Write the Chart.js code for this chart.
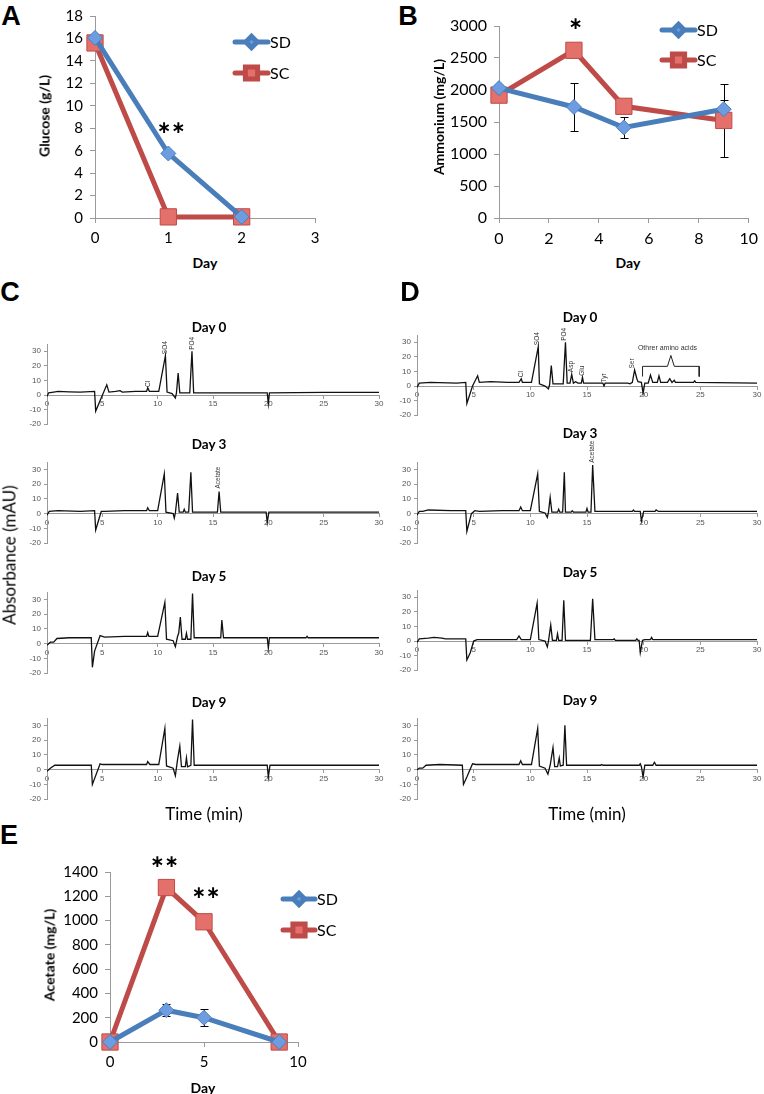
<!DOCTYPE html>
<html>
<head>
<meta charset="utf-8">
<script src="https://cdn.jsdelivr.net/npm/chart.js@4.4.1/dist/chart.umd.min.js"></script>
<style>
    body { margin: 0; background: #fff; }
    #fig { position: relative; width: 764px; height: 1094px; background: #fff; font-family: Lato, sans-serif; overflow: hidden; }
    #fig canvas { position: absolute; }
    .t { position: absolute; white-space: nowrap; transform: translate(-50%, -50%); color: #000; }
</style>
</head>
<body>
<div id="fig"></div>
<script>
// Panel A: glucose
const glucoseDays = [0, 1, 2];
const glucoseSD = [16.05, 5.75, 0.1];
const glucoseSC = [15.6, 0.1, 0.1];

// Panel B: ammonium
const ammoniumDays = [0, 3, 5, 9];
const ammoniumSD = [2030, 1735, 1415, 1700];
const ammoniumSDErr = [0, 370, 160, 140];
const ammoniumSC = [1920, 2620, 1745, 1525];
const ammoniumSCErr = [0, 110, 0, 575];

// Panel E: acetate
const acetateDays = [0, 3, 5, 9];
const acetateSD = [0, 262, 200, 0];
const acetateSDErr = [0, 50, 70, 0];
const acetateSC = [0, 1272, 990, 0];
const acetateSCErr = [0, 0, 0, 0];

// Panel C: chromatograms, [time (min), absorbance (mAU)]
const cDay0 = [[0,-1],[0.15,1.5],[0.6,2],[1,2.5],[2,2.2],[3,2],[4.3,2.5],[4.4,-11],[5.4,7],[5.6,2],[6.2,2.5],[6.6,3],[6.8,2],[8,2.5],[9.0,2.5],[9.1,5],[9.25,2.5],[10.1,2.5],[10.7,27],[10.85,2],[11.3,1],[11.6,-2],[11.7,1.5],[11.85,15],[12.0,1.5],[12.9,1.5],[13.1,30],[13.25,1.5],[19.9,1.5],[20.0,-6],[20.1,1.5],[25,1.8],[30,1.8]];
const cDay3 = [[0,-1],[0.2,1.5],[1,2],[3,1.5],[4.3,2],[4.4,-11],[4.9,1.5],[5.2,1.5],[7,2],[9.0,2],[9.1,4],[9.25,2],[10.0,2],[10.6,27],[10.75,1],[11.4,0],[11.5,-3],[11.6,0.5],[11.8,14],[11.95,1],[12.3,1],[12.4,3],[12.5,1],[12.8,1],[13.0,28],[13.15,1],[15.4,1],[15.55,15],[15.7,1],[19.8,1],[19.9,-6],[20.05,1],[30,1]];
const cDay5 = [[0,-1],[0.3,1],[0.6,1],[0.9,3.5],[2,4],[4.0,4],[4.1,-16],[4.3,-5],[4.8,5.5],[5.2,4.5],[7,5],[9.0,5],[9.1,7.5],[9.2,5],[10.0,5],[10.65,28],[10.8,3],[11.4,2],[11.6,-2],[11.8,5],[11.9,7],[12.05,18],[12.2,3],[12.5,3],[12.6,7],[12.7,3],[13.0,3],[13.15,34],[13.3,4],[15.7,4],[15.8,16],[15.95,4],[19.9,4],[20.0,-3],[20.1,4],[23.4,4],[23.5,5],[23.6,4],[30,4]];
const cDay9 = [[0,-1],[0.3,1],[0.7,3],[2,3],[4.0,3],[4.1,-10],[4.8,4],[5.0,3.5],[9.0,3.5],[9.1,5.5],[9.3,3.5],[10.1,3.5],[10.65,28],[10.8,2.5],[11.4,1],[11.6,-4],[11.8,7],[12.0,16],[12.15,2],[12.5,2],[12.6,8],[12.7,2],[13.0,3],[13.15,34],[13.3,3],[19.9,3],[20.0,-5],[20.15,3],[30,3]];

// Panel D: chromatograms
const dDay0 = [[0,-1],[0.2,2],[1.2,2.5],[3.5,2],[4.3,2.5],[4.4,-12],[4.9,0],[5.35,7],[5.5,2.5],[6.5,3],[8,2.5],[9.0,2.5],[9.2,5],[9.3,2.5],[10.1,2.5],[10.7,27],[10.8,1.5],[11.3,0],[11.6,-2],[11.7,1],[11.85,14],[12.0,1.5],[12.9,1.5],[13.1,30],[13.25,2],[13.5,2],[13.65,8],[13.8,2],[14.0,3],[14.2,2],[14.5,2],[14.6,6],[14.7,2],[16.4,2],[16.5,0],[16.6,2],[18.6,2],[18.8,1.5],[19.0,2.5],[19.2,11],[19.4,5],[19.5,3],[19.8,2.5],[19.95,-5],[20.1,2],[20.4,2],[20.6,7.5],[20.8,2.5],[21.2,2.5],[21.35,7],[21.5,2.5],[22.1,2.5],[22.3,5],[22.5,2.5],[22.7,4],[22.8,2.5],[24.4,2.5],[24.5,3.5],[24.6,2.5],[30,2]];
const dDay3 = [[0,-1],[0.2,1.5],[0.5,1.5],[1.0,2.5],[3,2],[4.3,2],[4.4,-12],[4.8,0],[5.1,2],[5.5,1.5],[7.5,2],[9.0,2],[9.15,4.5],[9.3,2],[10.0,2],[10.65,27],[10.8,1.5],[11.3,0.5],[11.5,-2.5],[11.6,1],[11.75,11],[11.9,1],[12.4,1],[12.5,3],[12.6,1],[12.85,1],[13.0,28],[13.1,1],[13.6,1],[13.7,2],[13.8,1],[14.9,1],[15.0,3.5],[15.1,1],[15.35,1],[15.5,33],[15.7,1.5],[19.0,1.5],[19.1,2.5],[19.2,1.5],[19.7,1.5],[19.8,-5],[20.0,1.5],[21.0,1.5],[21.1,2.5],[21.3,1.5],[30,1.5]];
const dDay5 = [[0,-1],[0.2,1.5],[1.0,2],[1.5,2.5],[2.2,2],[2.5,1.5],[4.3,1.5],[4.4,-13],[4.7,-8],[5.0,0],[5.3,1],[8.8,1],[9.0,3.5],[9.2,1],[10.0,1],[10.6,26],[10.75,1],[11.3,0],[11.5,-4],[11.6,0],[11.8,11],[11.95,0.5],[12.3,0.5],[12.4,5],[12.5,0.5],[12.8,0.5],[12.95,28],[13.1,0.5],[15.3,0.5],[15.5,29],[15.7,1],[17.3,1],[17.4,1.5],[17.5,0.5],[19.3,0.5],[19.4,1.5],[19.5,0.5],[19.6,0.5],[19.7,-8],[19.9,0.5],[20.1,1],[20.6,1],[20.7,2.5],[20.8,1],[30,1]];
const dDay9 = [[0,0],[0.2,1],[0.5,1],[0.8,3],[2,3.5],[4.0,3],[4.1,-10],[4.4,-5],[4.9,4],[5.2,3.5],[9.0,3.5],[9.15,6],[9.3,3.5],[10.1,3.5],[10.65,28],[10.8,2.5],[11.3,1],[11.55,-3],[11.75,3],[12.0,15],[12.15,2],[12.4,2],[12.55,8],[12.65,2.5],[12.9,3],[13.05,30],[13.2,3],[16.2,3],[16.3,3.5],[16.4,3],[19.6,3],[19.7,4],[19.8,2],[19.95,-5],[20.1,3],[20.8,3],[20.95,5],[21.1,3],[30,3]];

// peak names: [name, time, absorbance where the label starts]
const cDay0Peaks = [['Cl', 9.15, 5.5], ['SO4', 10.7, 28], ['PO4', 13.1, 31]];
const cDay3Peaks = [['Acetate', 15.5, 17]];
const dDay0Peaks = [['Cl', 9.2, 6], ['SO4', 10.6, 28], ['PO4', 13.0, 31], ['Asp', 13.6, 9.5], ['Glu', 14.6, 7], ['Tyr', 16.5, 2.5], ['Ser', 19.0, 12]];
const dDay3Peaks = [['Acetate', 15.45, 34.5]];

// brace over the other amino acids (panel D, day 0)
const braceTimes = [19.9, 19.9, 22.1, 22.4, 22.7, 24.9, 24.9];
const braceValues = [6.5, 13.5, 13.5, 21, 13.5, 13.5, 6.5];
const braceText = 'Othrer amino acids';

const SD_LINE = '#4a7ebb', SD_FILL = '#6d9de0';
const SC_LINE = '#be4b48', SC_FILL = '#e4706c';
const AXIS = '#9a9a9a';

const fig = document.getElementById('fig');

function addCanvas(box) {
    const c = document.createElement('canvas');
    c.width = box.w; c.height = box.h;
    c.style.left = box.x + 'px'; c.style.top = box.y + 'px';
    c.style.width = box.w + 'px'; c.style.height = box.h + 'px';
    fig.appendChild(c);
    return c;
}

function txt(s, cx, cy, css, rot) {
    const d = document.createElement('div');
    d.className = 't';
    d.textContent = s;
    d.style.left = cx + 'px'; d.style.top = cy + 'px';
    d.style.cssText += css;
    if (rot) d.style.transform = 'translate(-50%, -50%) rotate(' + rot + 'deg)';
    fig.appendChild(d);
}

// plain numbers, no thousands separator
const plain = v => String(v);

// error bars from dataset.errors
const errorBars = {
    id: 'errorBars',
    beforeDatasetsDraw(chart) {
        const { ctx, scales: { x, y } } = chart;
        ctx.save();
        ctx.strokeStyle = '#000';
        ctx.lineWidth = 1;
        chart.data.datasets.forEach(ds => {
            (ds.errors || []).forEach((e, i) => {
                if (!e) return;
                const px = Math.round(x.getPixelForValue(ds.data[i].x)) + 0.5;
                const top = Math.round(y.getPixelForValue(ds.data[i].y + e)) + 0.5;
                const bot = Math.round(y.getPixelForValue(ds.data[i].y - e)) + 0.5;
                ctx.beginPath();
                ctx.moveTo(px, top); ctx.lineTo(px, bot);
                ctx.moveTo(px - 4, top); ctx.lineTo(px + 4, top);
                ctx.moveTo(px - 4, bot); ctx.lineTo(px + 4, bot);
                ctx.stroke();
            });
        });
        ctx.restore();
    }
};

// Excel-like legend: thick line with the marker in the middle
const lineLegend = {
    id: 'lineLegend',
    afterDraw(chart, args, opts) {
        if (!opts || opts.x === undefined) return;
        const { ctx, chartArea } = chart;
        chart.data.datasets.forEach((ds, i) => {
            const y = chartArea.top + opts.y + i * opts.gap;
            const x0 = chartArea.left + opts.x, x1 = x0 + opts.len;
            ctx.save();
            ctx.strokeStyle = ds.borderColor;
            ctx.lineWidth = ds.borderWidth;
            ctx.lineCap = 'round';
            ctx.beginPath(); ctx.moveTo(x0, y); ctx.lineTo(x1, y); ctx.stroke();
            ctx.fillStyle = ds.pointBackgroundColor;
            ctx.strokeStyle = ds.pointBorderColor;
            Chart.helpers.drawPoint(ctx, { pointStyle: ds.pointStyle, radius: ds.pointRadius * 0.75, borderWidth: 1 }, (x0 + x1) / 2, y);
            ctx.fillStyle = '#000';
            ctx.font = opts.font;
            ctx.textBaseline = 'middle';
            ctx.textAlign = 'left';
            ctx.fillText(ds.label, x1 + 2, y + 1);
            ctx.restore();
        });
    }
};

// significance stars placed at data coordinates
const stars = {
    id: 'stars',
    afterDraw(chart, args, opts) {
        if (!opts || !opts.items) return;
        const { ctx, scales: { x, y } } = chart;
        ctx.save();
        ctx.fillStyle = '#000';
        ctx.font = 'bold 17px "DejaVu Sans"';
        ctx.textAlign = 'center';
        ctx.textBaseline = 'middle';
        opts.items.forEach(it => ctx.fillText(it.text, x.getPixelForValue(it.x), y.getPixelForValue(it.y)));
        ctx.restore();
    }
};

function series(label, days, vals, errs, line, fill, style, r) {
    return {
        label: label,
        data: days.map((d, i) => ({ x: d, y: vals[i] })),
        errors: errs,
        borderColor: line,
        borderWidth: 5,
        pointStyle: style,
        pointRadius: r,
        pointBackgroundColor: fill,
        pointBorderColor: line,
        pointBorderWidth: 1,
        tension: 0,
        clip: false
    };
}

// the y scale takes all the room left of the plot, the x scale all the room below
function dayChart(box, area, cfg) {
    const tickFont = { family: 'Lato', size: cfg.font };
    const yWidth = area.l - box.x, xHeight = box.y + box.h - area.b;
    return new Chart(addCanvas(box), {
        type: 'line',
        data: {
            datasets: [
                series('SD', cfg.days, cfg.sd, cfg.sdErr, SD_LINE, SD_FILL, 'rectRot', 7.5),
                series('SC', cfg.days, cfg.sc, cfg.scErr, SC_LINE, SC_FILL, 'rect', 11.5)
            ]
        },
        options: {
            responsive: false, animation: false, devicePixelRatio: 1,
            layout: { padding: { left: 0, bottom: 0, top: area.t - box.y, right: box.x + box.w - area.r } },
            plugins: {
                legend: { display: false }, tooltip: { enabled: false },
                lineLegend: cfg.legend,
                stars: { items: cfg.stars }
            },
            scales: {
                x: {
                    type: 'linear', min: 0, max: cfg.xMax,
                    ticks: { stepSize: cfg.xStep, font: tickFont, color: '#000', padding: 6, maxRotation: 0, callback: plain },
                    grid: { drawOnChartArea: false, drawTicks: true, tickLength: 5, color: AXIS },
                    border: { color: AXIS },
                    afterFit: s => { s.height = xHeight; }
                },
                y: {
                    min: 0, max: cfg.yMax,
                    ticks: { stepSize: cfg.yStep, font: tickFont, color: '#000', padding: 7, callback: plain },
                    grid: { drawOnChartArea: false, drawTicks: true, tickLength: 5, color: AXIS },
                    border: { color: AXIS },
                    afterFit: s => { s.width = yWidth; }
                }
            }
        },
        plugins: [errorBars, lineLegend, stars]
    });
}

// rotated peak names and the amino-acid brace label
const peakNames = {
    id: 'peakNames',
    afterDatasetsDraw(chart, args, opts) {
        if (!opts || !opts.peaks) return;
        const { ctx, scales: { x, y } } = chart;
        ctx.save();
        ctx.fillStyle = '#333';
        ctx.font = '6.5px "Liberation Sans"';
        opts.peaks.forEach(p => {
            ctx.save();
            ctx.translate(x.getPixelForValue(p[1]), y.getPixelForValue(p[2]));
            ctx.rotate(-Math.PI / 2);
            ctx.textAlign = 'left';
            ctx.textBaseline = 'middle';
            ctx.fillText(p[0], 0, 0);
            ctx.restore();
        });
        if (opts.brace) {
            ctx.font = '7px "Liberation Sans"';
            ctx.textAlign = 'center';
            ctx.textBaseline = 'middle';
            ctx.fillText(opts.brace.text, x.getPixelForValue(opts.brace.x), y.getPixelForValue(opts.brace.y));
        }
        ctx.restore();
    }
};

function chromChart(area, trace, peaks, brace) {
    const box = { x: area.l - 30, y: area.t - 30, w: area.r - area.l + 40, h: area.b - area.t + 34 };
    const small = { family: 'Liberation Sans', size: 8 };
    const datasets = [{
        data: trace.map(p => ({ x: p[0], y: p[1] })),
        borderColor: '#111', borderWidth: 1.3, pointRadius: 0, tension: 0
    }];
    if (brace) {
        datasets.push({
            data: braceTimes.map((t, i) => ({ x: t, y: braceValues[i] })),
            borderColor: '#222', borderWidth: 1, pointRadius: 0, tension: 0
        });
    }
    return new Chart(addCanvas(box), {
        type: 'line',
        data: { datasets },
        options: {
            responsive: false, animation: false, devicePixelRatio: 1,
            layout: { padding: { left: 0, top: 30, right: 10, bottom: 4 } },
            plugins: {
                legend: { display: false }, tooltip: { enabled: false },
                peakNames: { peaks: peaks || [], brace: brace ? { text: braceText, x: 22.1, y: 26 } : null }
            },
            scales: {
                x: {
                    type: 'linear', min: 0, max: 30, position: { y: 0 },
                    ticks: { stepSize: 5, font: small, color: '#555', padding: 1, maxRotation: 0 },
                    grid: { drawOnChartArea: false, drawTicks: true, tickLength: 3, color: AXIS },
                    border: { color: AXIS }
                },
                y: {
                    min: -20, max: 35,
                    ticks: { stepSize: 10, includeBounds: false, font: small, color: '#555', padding: 3 },
                    grid: { drawOnChartArea: false, drawTicks: true, tickLength: 3, color: AXIS },
                    border: { color: AXIS },
                    afterFit: s => { s.width = 30; }
                }
            }
        },
        plugins: [peakNames]
    });
}

// Panel A
dayChart({ x: 50, y: 0, w: 290, h: 252 }, { l: 95, r: 315, t: 5, b: 218 }, {
    days: glucoseDays, sd: glucoseSD, sc: glucoseSC, sdErr: [], scErr: [],
    xMax: 3, xStep: 1, yMax: 18, yStep: 2, font: 15,
    legend: { x: 140, y: 26, gap: 31, len: 33, font: '16px Lato' },
    stars: [{ x: 1.04, y: 8.0, text: '∗∗' }]
});
// Panel B
dayChart({ x: 440, y: 0, w: 324, h: 252 }, { l: 499, r: 756, t: 26, b: 218 }, {
    days: ammoniumDays, sd: ammoniumSD, sc: ammoniumSC, sdErr: ammoniumSDErr, scErr: ammoniumSCErr,
    xMax: 10, xStep: 2, yMax: 3000, yStep: 500, font: 16,
    legend: { x: 163, y: 4, gap: 30, len: 33, font: '16px Lato' },
    stars: [{ x: 3.07, y: 3030, text: '∗' }]
});
// Panel E
dayChart({ x: 55, y: 850, w: 300, h: 230 }, { l: 110, r: 298, t: 872, b: 1042 }, {
    days: acetateDays, sd: acetateSD, sc: acetateSC, sdErr: acetateSDErr, scErr: acetateSCErr,
    xMax: 10, xStep: 5, yMax: 1400, yStep: 200, font: 15,
    legend: { x: 173, y: 27, gap: 31, len: 32, font: '16px Lato' },
    stars: [{ x: 2.9, y: 1480, text: '∗∗' }, { x: 5.1, y: 1225, text: '∗∗' }]
});

// Panel C
chromChart({ l: 47, r: 379, t: 344, b: 428 }, cDay0, cDay0Peaks);
chromChart({ l: 47, r: 379, t: 462, b: 547 }, cDay3, cDay3Peaks);
chromChart({ l: 47, r: 379, t: 592, b: 677 }, cDay5);
chromChart({ l: 47, r: 379, t: 718, b: 803 }, cDay9);
// Panel D
chromChart({ l: 417, r: 757, t: 335, b: 419 }, dDay0, dDay0Peaks, true);
chromChart({ l: 417, r: 757, t: 462, b: 547 }, dDay3, dDay3Peaks);
chromChart({ l: 417, r: 757, t: 590, b: 674 }, dDay5);
chromChart({ l: 417, r: 757, t: 718, b: 803 }, dDay9);

// panel letters
const letter = 'font: bold 27px "Liberation Sans";';
txt('A', 11, 16, letter);
txt('B', 408, 16, letter);
txt('C', 10, 292, letter);
txt('D', 410, 292, letter);
txt('E', 9, 835, letter);

// axis titles
const bold = 'font: bold 14px Lato;';
txt('Glucose (g/L)', 44, 116, bold, -90);
txt('Day', 205, 262, bold);
txt('Ammonium (mg/L)', 438, 117, bold, -90);
txt('Day', 628, 262, bold);
txt('Acetate (mg/L)', 49, 955, bold, -90);
txt('Day', 203, 1087, bold);

const dayTitle = 'font: bold 13.5px Lato;';
txt('Day 0', 209, 327, dayTitle);
txt('Day 3', 209, 444, dayTitle);
txt('Day 5', 209, 576, dayTitle);
txt('Day 9', 209, 702, dayTitle);
txt('Day 0', 580, 317, dayTitle);
txt('Day 3', 580, 433, dayTitle);
txt('Day 5', 580, 572, dayTitle);
txt('Day 9', 580, 700, dayTitle);

txt('Absorbance (mAU)', 9, 555, 'font: 17px Lato;', -90);
txt('Time (min)', 204, 813, 'font: 17px Lato;');
txt('Time (min)', 587, 813, 'font: 17px Lato;');
</script>
</body>
</html>
